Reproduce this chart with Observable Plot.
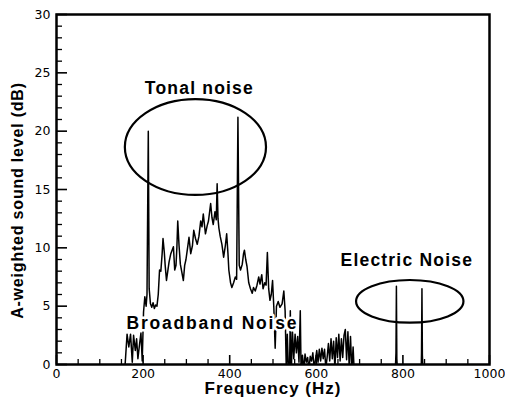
<!DOCTYPE html>
<html><head><meta charset="utf-8">
<script src="https://cdn.jsdelivr.net/npm/d3@7"></script>
<script src="https://cdn.jsdelivr.net/npm/@observablehq/plot@0.6"></script>
<style>body{margin:0;background:#fff}</style>
</head><body><div id="chart"></div>
<script>
// Spectrum (Hz, dB(A)); values below 0 are clipped by the frame
const freq = [155,163,167,171,175,178,182,185,188,192,195,198,
 201,204,207,209,212,214,217,220,223,226,229,232,235,238,241,244,246,249,251,254,257,260,264,267,270,273,276,278,280,283,286,289,293,296,299,302,306,310,314,317,321,325,329,333,336,339,344,348,351,356,359,362,366,369,371,373,375,378,382,386,390,393,396,398,402,405,409,413,416,419,422,425,429,432,434,437,440,444,448,452,455,459,463,467,470,474,477,481,484,487,490,493,496,499,502,505,508,512,516,521,525,528,531,533,535,538,540,542,545,548,551,554,557,560,563,565,
 568,571,574,577,580,583,586,589,592,595,598,601,604,607,610,613,616,619,622,625,628,631,634,637,640,643,646,649,652,655,658,661,664,667,670,673,676,679,682,685,688,
 782,784,785,786,788,842,843,844,845,847,1000];
const level = [-2,2.6,1.5,2.6,0.2,2.5,1.2,2.2,0.5,1.8,2.7,0.3,
 4.5,5.8,5.0,6.0,20.0,6.5,5.2,4.9,5.3,4.8,5.1,5.0,6.0,8.1,8.0,9.5,10.8,9.6,8.5,7.2,8.0,8.8,9.5,9.8,10.1,8.1,8.5,10.0,12.3,10.2,8.6,8.0,7.2,8.5,9.0,9.8,10.9,9.5,10.2,11.5,10.8,10.3,11.0,12.3,11.8,12.9,11.2,11.9,12.3,13.8,12.6,12.0,13.1,12.4,15.5,12.5,11.7,11.0,10.3,9.2,10.2,11.2,9.5,8.1,7.0,6.6,7.0,7.5,7.3,21.2,8.5,8.1,8.6,9.5,9.8,9.0,8.4,7.0,6.5,6.1,6.6,6.3,6.8,7.5,6.9,7.7,6.5,7.0,6.8,9.6,6.5,5.5,6.0,7.2,4.8,1.4,5.0,5.4,4.9,5.2,6.3,4.6,-1,2.6,0.3,-1,4.6,-1,2.8,0.5,2.6,1.0,2.4,0.2,4.6,-1,
 0.8,-0.5,0.9,0.2,0.6,-0.5,0.7,0.3,1.0,-0.3,0.4,1.2,0.2,1.3,0.3,1.4,0.5,1.3,-0.3,0.6,1.8,0.3,2.2,0.5,2.0,-0.3,2.3,0.6,2.6,0.3,2.2,0.6,2.5,3.0,0.4,2.8,-0.2,2.4,-0.5,1.5,-1,
 -1,1.0,6.7,0.5,-1,-1,1.0,6.5,0.8,-1,-1];

const xTicks = [0,200,400,600,800,1000];
const yTicks = [0,5,10,15,20,25,30];
const xMinor = [50,100,150,250,300,350,450,500,550,650,700,750,850,900,950];
const yMinor = [1,2,3,4,6,7,8,9,11,12,13,14,16,17,18,19,21,22,23,24,26,27,28,29];

const labels = ["Tonal noise","Broadband Noise","Electric Noise"];
const labelX = [330,360,809];
const labelY = [23.7,3.56,8.9];

const ellCx = [322,817], ellCy = [18.6,5.37], ellRx = [163,124], ellRy = [4.11,1.83];

const W = 505, H = 397, mL = 56, mR = 16, mT = 14, mB = 33;
const pw = W - mL - mR, ph = H - mT - mB;
const data = freq.map((f,i) => ({f, v: level[i]}));
const ann = labels.map((t,i) => ({t, x: labelX[i], y: labelY[i]}));

const ellipses = (index, scales) => {
  const g = d3.create("svg:g");
  for (let i = 0; i < ellCx.length; i++) {
    const cx = scales.x(ellCx[i]), cy = scales.y(ellCy[i]);
    g.append("ellipse").attr("cx", cx).attr("cy", cy)
      .attr("rx", Math.abs(scales.x(ellCx[i] + ellRx[i]) - cx))
      .attr("ry", Math.abs(scales.y(ellCy[i] + ellRy[i]) - cy))
      .attr("fill", "none").attr("stroke", "black").attr("stroke-width", 2.2);
  }
  return g.node();
};

const bold = "'Liberation Sans', Arial, Helvetica, sans-serif";
const chart = Plot.plot({
  width: W, height: H,
  marginLeft: mL, marginRight: mR, marginTop: mT, marginBottom: mB,
  style: {fontFamily: "'DejaVu Sans', sans-serif", fontSize: "12.5px", background: "white", color: "black"},
  x: {domain: [0,1000], ticks: xTicks, tickSize: 0, tickPadding: 5, tickFormat: d => String(d), label: null},
  y: {domain: [0,30], ticks: yTicks, tickSize: 0, tickPadding: 6, tickFormat: d => String(d), label: null},
  marks: [
    Plot.tickY(yMinor, {y: d => d, insetRight: pw - 6, stroke: "black", strokeWidth: 1.3}),
    Plot.tickY(yTicks, {y: d => d, insetRight: pw - 11, stroke: "black", strokeWidth: 1.6}),
    Plot.tickX(xMinor, {x: d => d, insetTop: ph - 5, stroke: "black", strokeWidth: 1.3}),
    Plot.tickX(xTicks, {x: d => d, insetTop: ph - 9, stroke: "black", strokeWidth: 1.6}),
    Plot.line(data, {x: "f", y: "v", stroke: "black", strokeWidth: 1.5, clip: true}),
    ellipses,
    Plot.text(ann, {x: "x", y: "y", text: "t", fontFamily: bold, fontWeight: "bold", fontSize: 17.5,
      textAnchor: "middle", lineAnchor: "middle", fill: "black", stroke: "white", strokeWidth: 5}),
    Plot.text(["Frequency (Hz)"], {frameAnchor: "bottom", dy: 24, text: d => d, fontFamily: bold,
      fontWeight: "bold", fontSize: 17, textAnchor: "middle", lineAnchor: "middle", fill: "black"}),
    Plot.text(["A-weighted sound level (dB)"], {frameAnchor: "left", dx: -39, dy: 11, rotate: -90, text: d => d,
      fontFamily: bold, fontWeight: "bold", fontSize: 16, textAnchor: "middle", lineAnchor: "middle", fill: "black"}),
    Plot.frame({stroke: "black", strokeWidth: 2.5})
  ]
});
document.getElementById("chart").appendChild(chart);
const sp = {"Tonal noise": "1.2px", "Broadband Noise": "1.8px", "Electric Noise": "1.2px",
            "Frequency (Hz)": "1px", "A-weighted sound level (dB)": "0.8px"};
d3.select(chart).selectAll("text").each(function() {
  const t = this.textContent;
  if (sp[t]) { this.style.letterSpacing = sp[t]; }
  if (labels.includes(t)) { this.setAttribute("paint-order", "stroke"); this.setAttribute("stroke-linejoin", "round"); }
});
</script></body></html>
